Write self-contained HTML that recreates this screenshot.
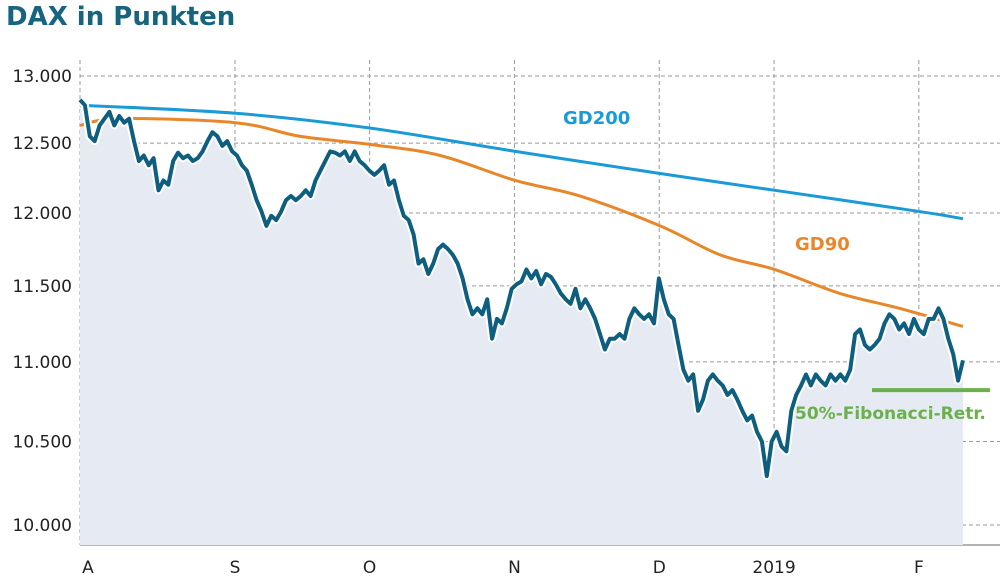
<!DOCTYPE html>
<html><head><meta charset="utf-8"><style>
body{margin:0;background:#fff;font-family:"DejaVu Sans","Liberation Sans",sans-serif}
svg text{font-family:"DejaVu Sans","Liberation Sans",sans-serif}
</style></head><body>
<svg width="1000" height="580" viewBox="0 0 1000 580">
<text x="6" y="25" font-size="26" font-weight="bold" fill="#17647f">DAX in Punkten</text>
<g id="grid"></g><g id="area"></g><g id="lines"></g><g id="labels"></g>
</svg>
<script>
const yTicks=[13000,12500,12000,11500,11000,10500,10000];
const yTickLabels=["13.000","12.500","12.000","11.500","11.000","10.500","10.000"];
const months=["A","S","O","N","D","2019","F"];
const monthPos=[0,0.1755,0.328,0.492,0.656,0.786,0.950];
const dax=[12820,12780,12550,12515,12630,12680,12730,12630,12700,12650,12680,12515,12370,12410,12340,12390,12160,12230,12200,12370,12430,12390,12410,12370,12390,12440,12515,12580,12550,12480,12515,12440,12410,12340,12300,12200,12090,12010,11910,11980,11950,12010,12090,12120,12090,12120,12160,12120,12230,12300,12370,12440,12430,12410,12440,12370,12440,12370,12340,12300,12270,12300,12340,12200,12230,12090,11980,11950,11850,11650,11680,11580,11650,11750,11780,11750,11710,11650,11550,11410,11310,11350,11310,11410,11150,11280,11250,11350,11480,11510,11530,11610,11550,11600,11510,11580,11560,11510,11450,11410,11380,11480,11350,11410,11350,11280,11180,11080,11150,11150,11180,11150,11280,11350,11310,11280,11310,11250,11550,11410,11310,11280,11110,10950,10880,10920,10690,10760,10880,10920,10880,10850,10790,10820,10760,10690,10630,10660,10560,10500,10290,10500,10560,10470,10440,10690,10790,10850,10920,10850,10920,10880,10850,10920,10880,10920,10880,10950,11180,11210,11110,11080,11110,11150,11250,11310,11280,11210,11250,11180,11280,11210,11180,11280,11280,11350,11280,11150,11050,10880,11010];
const gd200X=[0,0.176,0.329,0.493,0.657,0.787,0.951,1];
const gd200=[12780,12720,12610,12440,12280,12160,12010,11960];
const gd90X=[0,0.045,0.176,0.249,0.329,0.408,0.493,0.566,0.657,0.725,0.787,0.860,0.928,1];
const gd90=[12630,12680,12650,12550,12490,12410,12230,12120,11910,11710,11610,11450,11350,11230];
const fibValue=10820;
const X0=80,X1=963,Ytop=76,Ybot=525;
const lnT=Math.log(13000),lnB=Math.log(10000);
const yS=v=>Ytop+(lnT-Math.log(v))/(lnT-lnB)*(Ybot-Ytop);
const xS=f=>X0+f*(X1-X0);
const NS="http://www.w3.org/2000/svg";
function mk(p,t,a){const e=document.createElementNS(NS,t);for(const k in a)e.setAttribute(k,a[k]);p.appendChild(e);return e;}
const grid=document.getElementById('grid'),area=document.getElementById('area'),lines=document.getElementById('lines'),labels=document.getElementById('labels');
yTicks.forEach((v,i)=>{const y=yS(v);
 const l=mk(grid,'line',{x1:X0,x2:1000,y1:y,y2:y,stroke:'#999','stroke-dasharray':'4,3','stroke-width':1});
 
 
 const t=mk(labels,'text',{x:72,y:y+6,'text-anchor':'end','font-size':17,fill:'#222'});t.textContent=yTickLabels[i];
 
 
});
months.forEach((m,i)=>{const x=xS(monthPos[i]);
 const l=mk(grid,'line',{x1:x,x2:x,y1:60,y2:545,stroke:'#999','stroke-dasharray':'4,3','stroke-width':1});
 
 
 const t=mk(labels,'text',{x:i==0?x+8:x,y:573,'text-anchor':'middle','font-size':17,fill:'#222'});t.textContent=m;
 
 
});
const ax=mk(grid,'line',{x1:X0,x2:1000,y1:545,y2:545,stroke:'#666','stroke-width':1});


const pts=dax.map((v,i)=>[xS(i/(dax.length-1)),yS(v)]);
const d=pts.map((p,i)=>(i?'L':'M')+p[0].toFixed(1)+','+p[1].toFixed(1)).join('');
const ar=mk(area,'path',{d:d+`L${X1},545L${X0},545Z`,fill:'#e6ebf3'});


function smooth(xs,vs){const p=xs.map((f,i)=>[xS(f),yS(vs[i])]);let s='M'+p[0];
 for(let i=0;i<p.length-1;i++){const p0=p[i-1]||p[i],p1=p[i],p2=p[i+1],p3=p[i+2]||p2;
  const c1=[p1[0]+(p2[0]-p0[0])/6,p1[1]+(p2[1]-p0[1])/6],c2=[p2[0]-(p3[0]-p1[0])/6,p2[1]-(p3[1]-p1[1])/6];
  s+=`C${c1} ${c2} ${p2}`;}return s;}
const g2=mk(lines,'path',{d:smooth(gd200X,gd200),fill:'none',stroke:'#1a9bd7','stroke-width':3});


const g9=mk(lines,'path',{d:smooth(gd90X,gd90),fill:'none',stroke:'#e8872a','stroke-width':3});


const halo=mk(lines,'path',{d:d,fill:'none',stroke:'#fff','stroke-width':8,'stroke-linejoin':'round'});


const dl=mk(lines,'path',{d:d,fill:'none',stroke:'#0e5f7f','stroke-width':4,'stroke-linejoin':'round'});


const fy=yS(fibValue);
const fl=mk(lines,'line',{x1:872,x2:990,y1:fy,y2:fy,stroke:'#6ab04c','stroke-width':4});


const lab=[["GD200",563,124,'#1a9bd7','gd200-label',18],["GD90",795,250,'#e8872a','gd90-label',18],["50%-Fibonacci-Retr.",795,419,'#6ab04c','fibonacci-label',17]];
lab.forEach(L=>{const t=mk(labels,'text',{x:L[1],y:L[2],'font-size':L[5],'font-weight':'bold',fill:L[3]});t.textContent=L[0];
 
 });
</script>
</body></html>
